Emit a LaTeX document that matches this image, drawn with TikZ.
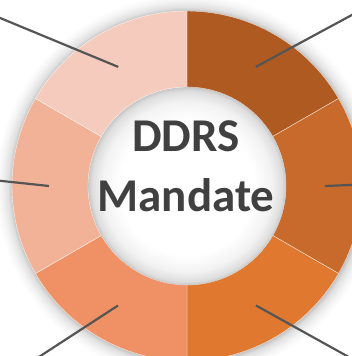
\documentclass[tikz,border=0pt]{standalone}
\usepackage{fontspec}
\setmainfont{Carlito}
\usepackage{tikz}
\usetikzlibrary{positioning}

\definecolor{segA}{HTML}{AF5A21}
\definecolor{segB}{HTML}{C86A2B}
\definecolor{segC}{HTML}{E07830}
\definecolor{segD}{HTML}{EF9164}
\definecolor{segE}{HTML}{F2B298}
\definecolor{segF}{HTML}{F5CBBD}
\definecolor{leader}{HTML}{555555}
\definecolor{titlegray}{HTML}{404040}

% soft halo round the ring and the hollow in the middle
\pgfdeclareradialshading{ringshadow}{\pgfpoint{0bp}{0bp}}{color(0bp)=(black!25); color(22.7bp)=(black!25); color(23.3bp)=(black!12); color(24.2bp)=(black!4); color(25bp)=(white)}
\pgfdeclareradialshading{holeglow}{\pgfpoint{0bp}{-1.5bp}}{color(0bp)=(white); color(17bp)=(white); color(21.5bp)=(black!5); color(24bp)=(black!13); color(25bp)=(black!22)}

\tikzset{
    title/.style={font=\bfseries\fontsize{47}{59}\selectfont, text=titlegray, anchor=base, inner sep=0pt},
    leaderline/.style={draw=leader, line width=2.2pt},
}

\begin{document}
\begin{tikzpicture}[x=1pt, y=1pt]
        \useasboundingbox (-187,-170) rectangle (165,186);
        \clip (-187,-170) rectangle (165,186);

        % ring with its shadow
        \shade[shading=ringshadow] (0,0) circle (192);
        \foreach \a/\c in {30/segA, -30/segB, -90/segC, -150/segD, 150/segE, 90/segF}
            \fill[\c, draw=white!80!\c, line width=0.4pt]
                (\a:175) arc (\a:\a+60:175) -- (\a+60:99) arc (\a+60:\a:99) -- cycle;
        \shade[shading=holeglow] (0,0) circle (99);

        \node[title] (ddrs) at (-1,34) {DDRS};
        \node[title] (mandate) at (-1,-25) {Mandate};

        % inner ends of the leaders
        \coordinate (segtl) at (120:137.5);
        \coordinate (segtr) at (60:137.5);
        \coordinate (segl) at (180:138);
        \coordinate (segr) at (0:138);
        \coordinate (segbl) at (240:138);
        \coordinate (segbr) at (300:138);

        % outer ends, past the frame
        \coordinate (outtl) at (-205,175.5);
        \coordinate (outtr) at (183,180.8);
        \coordinate (outl) at (-200,6.6);
        \coordinate (outr) at (180,1.7);
        \coordinate (outbl) at (-162,-180);
        \coordinate (outbr) at (178,-180);

        \draw[leaderline] (segtl) -- (outtl);
        \draw[leaderline] (segtr) -- (outtr);
        \draw[leaderline] (segl) -- (outl);
        \draw[leaderline] (segr) -- (outr);
        \draw[leaderline] (segbl) -- (outbl);
        \draw[leaderline] (segbr) -- (outbr);
    \end{tikzpicture}
\end{document}
